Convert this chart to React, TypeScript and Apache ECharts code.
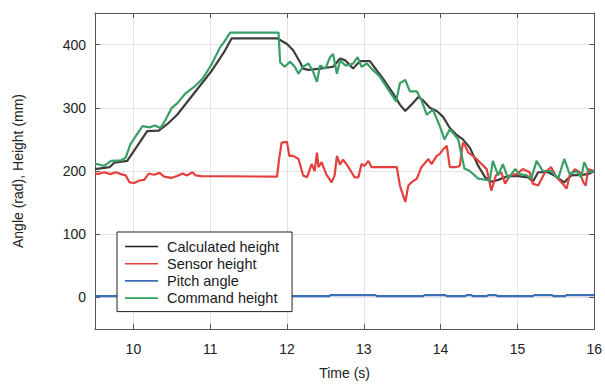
import React, { useEffect, useRef } from "react";
import * as echarts from "echarts";

const seriesNames = ["Calculated height", "Sensor height", "Pitch angle", "Command height"];

const calcT = [9.5, 9.69, 9.75, 9.92, 10.18, 10.33, 10.44, 10.57, 10.68, 10.79, 10.9, 11.01, 11.18, 11.28, 11.87, 12.0, 12.08, 12.17, 12.21, 12.28, 12.43, 12.6, 12.69, 12.76, 12.86, 12.95, 13.08, 13.12, 13.25, 13.38, 13.47, 13.54, 13.62, 13.71, 13.77, 13.86, 13.95, 14.03, 14.12, 14.2, 14.29, 14.38, 14.49, 14.58, 14.66, 14.75, 14.88, 15.01, 15.14, 15.2, 15.27, 15.4, 15.48, 15.61, 15.7, 15.83, 15.92, 16.0];
const calcV = [203, 206, 213, 216, 263, 264, 274, 289, 306, 323, 340, 357, 388, 410, 410, 401, 391, 372, 362, 360, 362, 365, 378, 375, 362, 374, 374, 367, 346, 323, 305, 295, 305, 317, 312, 300, 295, 286, 268, 258, 250, 237, 208, 190, 183, 186, 192, 192, 190, 183, 198, 198, 193, 182, 193, 194, 195, 200];

const sensorT = [9.5, 9.53, 9.62, 9.7, 9.77, 9.84, 9.9, 9.95, 10.01, 10.08, 10.14, 10.2, 10.27, 10.34, 10.4, 10.49, 10.57, 10.64, 10.7, 10.77, 10.81, 10.88, 11.87, 11.9, 11.93, 12.0, 12.03, 12.08, 12.15, 12.21, 12.26, 12.32, 12.36, 12.39, 12.41, 12.45, 12.51, 12.58, 12.62, 12.65, 12.69, 12.73, 12.79, 12.84, 12.88, 12.93, 12.97, 13.01, 13.06, 13.1, 13.43, 13.47, 13.54, 13.58, 13.62, 13.69, 13.75, 13.84, 13.88, 13.95, 13.99, 14.03, 14.08, 14.12, 14.19, 14.25, 14.29, 14.32, 14.36, 14.42, 14.51, 14.6, 14.66, 14.72, 14.79, 14.84, 14.9, 14.99, 15.07, 15.16, 15.2, 15.27, 15.36, 15.44, 15.51, 15.59, 15.64, 15.68, 15.75, 15.81, 15.86, 15.89, 15.92, 16.0];
const sensorV = [197, 195, 198, 195, 198, 195, 193, 182, 181, 185, 186, 196, 194, 197, 191, 189, 192, 196, 193, 198, 193, 192, 191, 221, 245, 246, 224, 224, 219, 193, 190, 211, 200, 229, 206, 214, 195, 182, 193, 224, 210, 218, 208, 198, 190, 190, 211, 208, 216, 206, 206, 177, 151, 177, 182, 188, 206, 219, 211, 224, 227, 234, 240, 206, 206, 208, 245, 240, 229, 224, 214, 203, 169, 193, 198, 180, 193, 195, 203, 198, 180, 177, 198, 206, 190, 180, 172, 193, 203, 198, 182, 177, 203, 200];

const pitchT = [9.5, 12.55, 12.57, 13.15, 13.17, 13.77, 13.79, 14.06, 14.08, 14.32, 14.34, 14.4, 14.42, 14.6, 14.62, 14.72, 14.74, 15.2, 15.22, 15.45, 15.47, 15.62, 15.64, 16.0];
const pitchV = [2, 2, 3.5, 3.5, 2, 2, 3.5, 3.5, 2, 2, 3.5, 3.5, 2, 2, 3.5, 3.5, 2, 2, 3.5, 3.5, 2, 2, 3.5, 3.5];

const cmdT = [9.5, 9.53, 9.62, 9.71, 9.84, 9.9, 9.96, 10.03, 10.12, 10.21, 10.28, 10.35, 10.41, 10.5, 10.57, 10.68, 10.79, 10.9, 11.01, 11.13, 11.18, 11.26, 11.89, 11.91, 11.97, 12.04, 12.1, 12.15, 12.21, 12.28, 12.34, 12.39, 12.43, 12.5, 12.56, 12.6, 12.65, 12.69, 12.76, 12.82, 12.86, 12.92, 12.97, 13.04, 13.1, 13.21, 13.42, 13.47, 13.54, 13.6, 13.69, 13.75, 13.82, 13.9, 13.99, 14.05, 14.12, 14.23, 14.27, 14.31, 14.38, 14.49, 14.64, 14.68, 14.75, 14.81, 14.88, 14.97, 15.03, 15.12, 15.18, 15.25, 15.33, 15.44, 15.53, 15.61, 15.68, 15.77, 15.83, 15.87, 15.93, 16.0];
const cmdV = [211, 211, 208, 216, 217, 221, 242, 255, 271, 269, 272, 268, 279, 300, 307, 323, 333, 346, 367, 396, 404, 419, 419, 372, 365, 373, 365, 354, 365, 370, 357, 341, 367, 362, 380, 385, 354, 375, 367, 368, 370, 380, 365, 370, 362, 349, 310, 339, 344, 326, 326, 312, 289, 297, 271, 250, 266, 250, 227, 204, 200, 188, 185, 216, 193, 211, 188, 203, 195, 193, 188, 216, 200, 200, 188, 219, 195, 200, 190, 214, 198, 200];

const colors = ["#3d3d3d", "#e5403e", "#3d6db5", "#389f67"];
const legendColors = ["#1e1e1e", "#e5403e", "#3d6db5", "#2fa358"];
const xTicks = [10, 11, 12, 13, 14, 15, 16];
const yTicks = [0, 100, 200, 300, 400];

const FONT = "Liberation Sans, Arial, sans-serif";

function zip(t: number[], v: number[]) {
  return t.map((x, i) => [x, v[i]]);
}

export default function App() {
  const ref = useRef<HTMLDivElement>(null);
  useEffect(() => {
    if (!ref.current) return;
    const chart = echarts.init(ref.current, null, { renderer: "svg" });
    const axisColor = "#555";
    const tickCommon = { show: true, inside: true, length: 5, lineStyle: { color: axisColor } };
    const datas = [zip(calcT, calcV), zip(sensorT, sensorV), zip(pitchT, pitchV), zip(cmdT, cmdV)];
    chart.setOption({
      animation: false,
      backgroundColor: "#fff",
      textStyle: { fontFamily: FONT },
      grid: { left: 95, right: 10, top: 13, bottom: 52, containLabel: false },
      legend: {
        data: seriesNames.map((n, i) => ({ name: n, itemStyle: { color: legendColors[i] } })),
        orient: "vertical",
        left: 117,
        top: 232,
        backgroundColor: "#fff",
        borderColor: "#222",
        borderWidth: 1,
        borderRadius: 0,
        padding: [7, 13, 6, 8],
        icon: "rect",
        itemWidth: 33,
        itemHeight: 1.6,
        itemGap: 2.2,
        textStyle: { fontSize: 14.5, color: "#1a1a1a", fontFamily: FONT, padding: [0, 0, 0, 4] },
      },
      xAxis: [
        {
          type: "value",
          min: 9.5,
          max: 16,
          splitNumber: 6,
          name: "Time (s)",
          nameLocation: "middle",
          nameGap: 37,
          nameTextStyle: { fontSize: 14, color: "#222", fontFamily: FONT },
          axisLine: { show: true, onZero: false, lineStyle: { color: axisColor } },
          axisTick: tickCommon,
          axisLabel: {
            fontSize: 14,
            color: "#222",
            margin: 13,
            fontFamily: FONT,
            formatter: (v: number) => (xTicks.includes(v) ? String(v) : ""),
          },
          splitLine: { show: true, lineStyle: { color: "#e3e3e3" } },
        },
        {
          type: "value",
          position: "top",
          min: 9.5,
          max: 16,
          splitNumber: 6,
          axisLine: { show: true, onZero: false, lineStyle: { color: axisColor } },
          axisTick: tickCommon,
          axisLabel: { show: false },
          splitLine: { show: false },
        },
      ],
      yAxis: [
        {
          type: "value",
          min: -50,
          max: 450,
          splitNumber: 5,
          name: "Angle (rad), Height (mm)",
          nameLocation: "middle",
          nameGap: 70,
          nameTextStyle: { fontSize: 14, color: "#222", fontFamily: FONT },
          axisLine: { show: true, onZero: false, lineStyle: { color: axisColor } },
          axisTick: tickCommon,
          axisLabel: {
            fontSize: 14,
            color: "#222",
            margin: 9,
            fontFamily: FONT,
            formatter: (v: number) => (yTicks.includes(v) ? String(v) : ""),
          },
          splitLine: { show: true, lineStyle: { color: "#e3e3e3" } },
        },
        {
          type: "value",
          position: "right",
          min: -50,
          max: 450,
          splitNumber: 5,
          axisLine: { show: true, onZero: false, lineStyle: { color: axisColor } },
          axisTick: tickCommon,
          axisLabel: { show: false },
          splitLine: { show: false },
        },
      ],
      series: seriesNames.map((name, i) => ({
        name,
        type: "line",
        xAxisIndex: 0,
        yAxisIndex: 0,
        data: datas[i],
        symbol: "none",
        showSymbol: false,
        color: colors[i],
        lineStyle: { width: 2.2, color: colors[i] },
      })),
    });
    return () => chart.dispose();
  }, []);
  return <div ref={ref} style={{ width: 605, height: 385, position: "absolute", left: 0, top: 0 }} />;
}
